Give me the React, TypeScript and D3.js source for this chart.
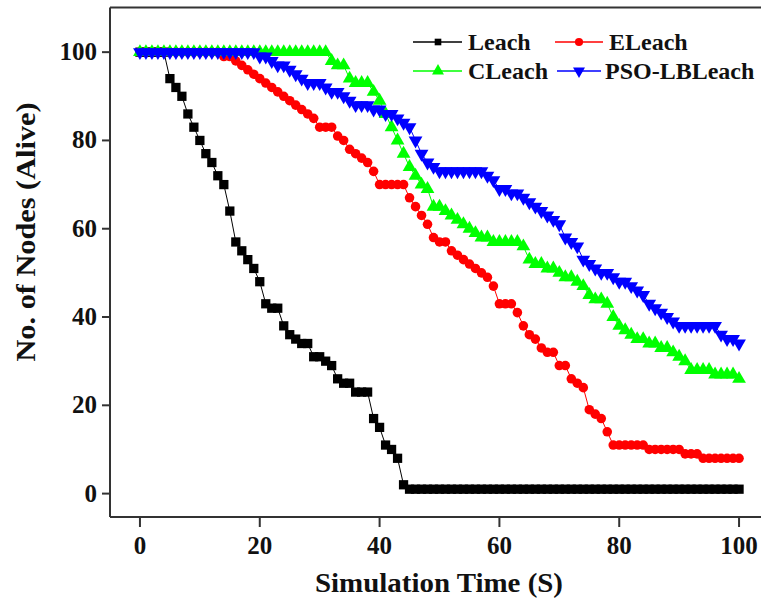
import React from "react";
import * as d3 from "d3";

const xTicks = [0, 20, 40, 60, 80, 100];
const yTicks = [0, 20, 40, 60, 80, 100];

const leach = [
  100, 100, 100, 100, 100, 94, 92, 90, 86, 83,
  80, 77, 75, 72, 70, 64, 57, 55, 53, 51,
  48, 43, 42, 42, 38, 36, 35, 34, 34, 31,
  31, 30, 29, 26, 25, 25, 23, 23, 23, 17,
  15, 11, 10, 8, 2, 1, 1, 1, 1, 1,
  1, 1, 1, 1, 1, 1, 1, 1, 1, 1,
  1, 1, 1, 1, 1, 1, 1, 1, 1, 1,
  1, 1, 1, 1, 1, 1, 1, 1, 1, 1,
  1, 1, 1, 1, 1, 1, 1, 1, 1, 1,
  1, 1, 1, 1, 1, 1, 1, 1, 1, 1,
  1,
];

const eleach = [
  100, 100, 100, 100, 100, 100, 100, 100, 100, 100,
  100, 100, 100, 100, 99, 99, 98, 97, 96, 95,
  94, 93, 92, 91, 90, 89, 88, 87, 86, 85,
  83, 83, 83, 81, 80, 78, 77, 76, 75, 73,
  70, 70, 70, 70, 70, 67, 65, 63, 61, 58,
  57, 57, 55, 54, 53, 52, 51, 50, 49, 47,
  43, 43, 43, 41, 38, 36, 35, 33, 32, 32,
  29, 29, 26, 25, 24, 19, 18, 17, 14, 11,
  11, 11, 11, 11, 11, 10, 10, 10, 10, 10,
  10, 9, 9, 9, 8, 8, 8, 8, 8, 8,
  8,
];

const cleach = [
  100, 100, 100, 100, 100, 100, 100, 100, 100, 100,
  100, 100, 100, 100, 100, 100, 100, 100, 100, 100,
  100, 100, 100, 100, 100, 100, 100, 100, 100, 100,
  100, 100, 98, 97, 97, 94, 93, 93, 93, 91,
  89, 86, 83, 80, 77, 74, 72, 70, 69, 65,
  65, 64, 63, 62, 61, 60, 59, 58, 58, 57,
  57, 57, 57, 57, 56, 53, 52, 52, 51, 51,
  50, 49, 49, 48, 47, 45, 44, 44, 43, 40,
  38, 37, 36, 35, 35, 34, 34, 33, 33, 32,
  31, 30, 28, 28, 28, 28, 27, 27, 27, 27,
  26,
];

const psoLbLeach = [
  100, 100, 100, 100, 100, 100, 100, 100, 100, 100,
  100, 100, 100, 100, 100, 100, 100, 100, 100, 100,
  99, 99, 98, 97, 97, 96, 95, 94, 93, 93,
  93, 92, 91, 91, 90, 89, 88, 88, 88, 87,
  87, 86, 86, 85, 84, 83, 80, 77, 75, 74,
  73, 73, 73, 73, 73, 73, 73, 73, 72, 71,
  69, 69, 68, 68, 67, 66, 65, 64, 63, 62,
  61, 58, 57, 56, 53, 52, 51, 50, 50, 49,
  48, 48, 47, 46, 45, 43, 42, 41, 40, 39,
  38, 38, 38, 38, 38, 38, 38, 36, 35, 35,
  34,
];

const seriesNames = ["Leach", "ELeach", "CLeach", "PSO-LBLeach"];
const seriesColors = ["#000000", "#ff0000", "#00ff00", "#0000ff"];

const W = 761;
const H = 602;
const FONT = "'Liberation Serif', 'Times New Roman', serif";

const x = d3.scaleLinear().domain([-5, 105]).range([110, 769]);
const y = d3.scaleLinear().domain([-5.3, 110]).range([517, 8]);

type Kind = "square" | "circle" | "up" | "down";
const kinds: Kind[] = ["square", "circle", "up", "down"];
const plotSizes = [86, 72, 82, 82];
const legendSizes = [44, 52, 62, 62];

function symbolPath(kind: Kind, size: number): string {
  const t =
    kind === "square"
      ? d3.symbolSquare
      : kind === "circle"
      ? d3.symbolCircle
      : d3.symbolTriangle;
  return d3.symbol().type(t).size(size)() as string;
}

function Marker({ kind, cx, cy, size, color }: { kind: Kind; cx: number; cy: number; size: number; color: string }) {
  const rot = kind === "down" ? " rotate(180)" : "";
  return <path d={symbolPath(kind, size)} transform={`translate(${cx},${cy})${rot}`} fill={color} />;
}

export default function App() {
  const allSeries = [leach, eleach, cleach, psoLbLeach];
  const line = d3
    .line<number>()
    .x((_, i) => x(i))
    .y((d) => y(d));

  const legendItems = [
    { lx1: 413, lx2: 462, mx: 438, tx: 468, ly: 42 },
    { lx1: 555, lx2: 603, mx: 579, tx: 609, ly: 42 },
    { lx1: 413, lx2: 462, mx: 438, tx: 468, ly: 71 },
    { lx1: 557, lx2: 601, mx: 579, tx: 605, ly: 71 },
  ];

  return (
    <div style={{ position: "absolute", left: 0, top: 0 }}>
      <svg width={W} height={H} style={{ display: "block", background: "#fff" }}>
        <rect x={0} y={0} width={W} height={H} fill="#fff" />
        {allSeries.map((s, si) => (
          <g key={seriesNames[si]}>
            <path d={line(s) as string} fill="none" stroke={seriesColors[si]} strokeWidth={1} />
            {s.map((v, i) => (
              <Marker key={i} kind={kinds[si]} cx={x(i)} cy={y(v)} size={plotSizes[si]} color={seriesColors[si]} />
            ))}
          </g>
        ))}
        <g stroke="#333" strokeWidth={2} fill="none">
          <line x1={110} x2={769} y1={7.5} y2={7.5} />
          <line x1={110} x2={769} y1={517} y2={517} />
          <line x1={110} x2={110} y1={7.5} y2={517} />
          <line x1={769} x2={769} y1={7.5} y2={517} />
        </g>
        {xTicks.map((t) => (
          <g key={"x" + t}>
            <line x1={x(t)} x2={x(t)} y1={517} y2={527} stroke="#333" strokeWidth={2} />
            <text x={x(t)} y={554} textAnchor="middle" fontFamily={FONT} fontWeight="bold" fontSize={25} fill="#111">
              {t}
            </text>
          </g>
        ))}
        {yTicks.map((t) => (
          <g key={"y" + t}>
            <line x1={102} x2={110} y1={y(t)} y2={y(t)} stroke="#333" strokeWidth={2} />
            <text x={97} y={y(t) + 8} textAnchor="end" fontFamily={FONT} fontWeight="bold" fontSize={25} fill="#111">
              {t}
            </text>
          </g>
        ))}
        <text
          x={439}
          y={592}
          textAnchor="middle"
          fontFamily={FONT}
          fontWeight="bold"
          fontSize={27}
          fill="#111"
          textLength={248}
          lengthAdjust="spacingAndGlyphs"
        >
          Simulation Time (S)
        </text>
        <text
          transform="translate(35,232) rotate(-90)"
          textAnchor="middle"
          fontFamily={FONT}
          fontWeight="bold"
          fontSize={27}
          fill="#111"
          textLength={259}
          lengthAdjust="spacingAndGlyphs"
        >
          No. of Nodes (Alive)
        </text>
        {legendItems.map((it, i) => (
          <g key={"lg" + i}>
            <line x1={it.lx1} x2={it.lx2} y1={it.ly} y2={it.ly} stroke={seriesColors[i]} strokeWidth={1.5} />
            <Marker kind={kinds[i]} cx={it.mx} cy={it.ly} size={legendSizes[i]} color={seriesColors[i]} />
            <text x={it.tx} y={it.ly + 8} fontFamily={FONT} fontWeight="bold" fontSize={24} fill="#111">
              {seriesNames[i]}
            </text>
          </g>
        ))}
      </svg>
    </div>
  );
}
